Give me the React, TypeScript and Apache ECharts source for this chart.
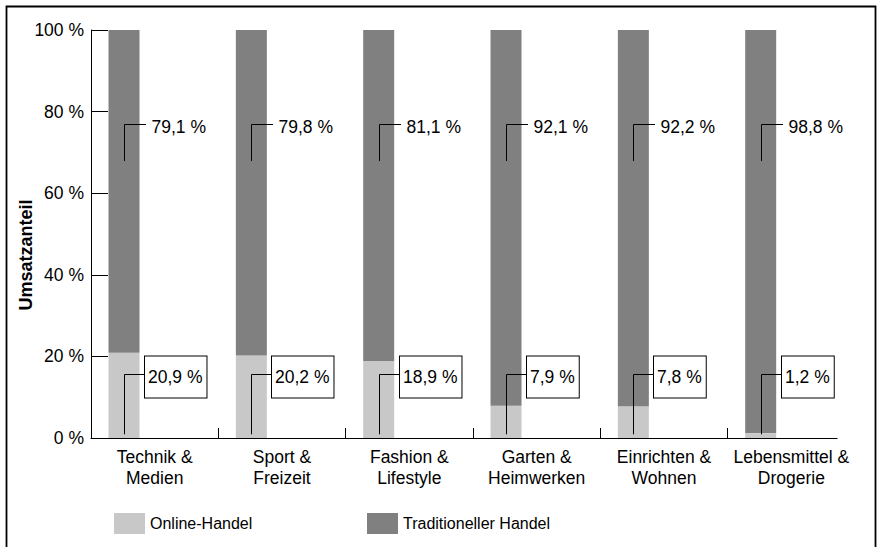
import React, { useEffect, useRef } from "react";
import * as echarts from "echarts";

const categories = [
  "Technik &\nMedien",
  "Sport &\nFreizeit",
  "Fashion &\nLifestyle",
  "Garten &\nHeimwerken",
  "Einrichten &\nWohnen",
  "Lebensmittel &\nDrogerie",
];
const onlineShare = [20.9, 20.2, 18.9, 7.9, 7.8, 1.2];
const traditionalShare = [79.1, 79.8, 81.1, 92.1, 92.2, 98.8];
const seriesNames = ["Online-Handel", "Traditioneller Handel"];
const yAxisTitle = "Umsatzanteil";

const FONT = "'Liberation Sans', Arial, Helvetica, sans-serif";
const LIGHT = "#c8c8c8";
const DARK = "#808080";
const BAR_WIDTH = 31;
const SPACER_WIDTH = 61.3;
const BAR_CENTER_OFFSET = -SPACER_WIDTH / 2;

// label anchor levels (in axis units)
const TOP_LABEL_LEVEL = 76.9;
const TOP_LEADER_END = 67.9;
const BOTTOM_LABEL_LEVEL = 15.6;
const BOTTOM_LEADER_END = 0.9;

const fmt = (v: number) => v.toFixed(1).replace(".", ",") + " %";

export default function App() {
  const ref = useRef<HTMLDivElement>(null);

  useEffect(() => {
    if (!ref.current) return;
    const chart = echarts.init(ref.current, undefined, { renderer: "svg" });

    const labelData = categories.map((_, i) => [i, onlineShare[i], traditionalShare[i]]);

    const option: any = {
      animation: false,
      backgroundColor: "#fff",
      textStyle: { fontFamily: FONT },
      grid: { left: 91, top: 30, width: 764, height: 408 },
      legend: [
        {
          left: 109,
          top: 508,
          itemWidth: 31,
          itemHeight: 21,
          icon: "rect",
          data: [seriesNames[0]],
          textStyle: { fontSize: 16, color: "#000", fontFamily: FONT },
          selectedMode: false,
        },
        {
          left: 362,
          top: 508,
          itemWidth: 31,
          itemHeight: 21,
          icon: "rect",
          data: [seriesNames[1]],
          textStyle: { fontSize: 16, color: "#000", fontFamily: FONT },
          selectedMode: false,
        },
      ],
      xAxis: {
        type: "category",
        data: categories,
        axisLine: { lineStyle: { color: "#000", width: 1 } },
        axisTick: { show: true, interval: 0, inside: true, length: 10, lineStyle: { color: "#000" } },
        axisLabel: {
          interval: 0,
          color: "#000",
          fontSize: 17.5,
          lineHeight: 21.5,
          margin: 8,
          fontFamily: FONT,
        },
        splitLine: { show: false },
      },
      yAxis: {
        type: "value",
        min: 0,
        max: 100,
        interval: 20,
        axisLine: { show: true, lineStyle: { color: "#000", width: 1 } },
        axisTick: { show: true, inside: true, length: 17, lineStyle: { color: "#000" } },
        axisLabel: {
          color: "#000",
          fontSize: 17.5,
          margin: 7,
          fontFamily: FONT,
          formatter: (v: number) => `${v} %`,
        },
        splitLine: { show: false },
      },
      graphic: [
        {
          type: "rect",
          shape: { x: 837.5, y: 425, width: 22, height: 16 },
          style: { fill: "#fff" },
          silent: true,
          z: 99,
        },
        {
          type: "rect",
          shape: { x: 6.5, y: 6.5, width: 869, height: 560 },
          style: { fill: "none", stroke: "#000", lineWidth: 1.8 },
          silent: true,
          z: 100,
        },
        {
          type: "text",
          x: 26,
          y: 255,
          rotation: Math.PI / 2,
          style: {
            text: yAxisTitle,
            font: `bold 18px ${FONT}`,
            fill: "#000",
            align: "center",
            verticalAlign: "middle",
          },
        },
      ],
      series: [
        {
          name: seriesNames[0],
          type: "bar",
          stack: "share",
          data: onlineShare,
          barWidth: BAR_WIDTH,
          barGap: "0%",
          itemStyle: { color: LIGHT },
        },
        {
          name: seriesNames[1],
          type: "bar",
          stack: "share",
          data: traditionalShare,
          barWidth: BAR_WIDTH,
          barGap: "0%",
          itemStyle: { color: DARK },
        },
        {
          name: "spacer",
          type: "bar",
          data: [],
          barWidth: SPACER_WIDTH,
          barGap: "0%",
          silent: true,
          itemStyle: { color: "transparent" },
        },
        {
          name: "labels",
          type: "custom",
          data: labelData,
          silent: true,
          z: 10,
          renderItem: (params: any, api: any) => {
            const idx = api.value(0);
            const online = api.value(1);
            const trad = api.value(2);
            const cx = api.coord([idx, 0])[0];
            const bx = Math.round(cx + BAR_CENTER_OFFSET) + 0.5;
            const yTE = Math.round(api.coord([idx, TOP_LABEL_LEVEL])[1]) + 0.5;
            const yTS = api.coord([idx, TOP_LEADER_END])[1];
            const yBE = Math.round(api.coord([idx, BOTTOM_LABEL_LEVEL])[1]) + 0.5;
            const yBS = api.coord([idx, BOTTOM_LEADER_END])[1];
            return {
              type: "group",
              children: [
                {
                  type: "polyline",
                  shape: { points: [[bx, yTS], [bx, yTE], [bx + 21.5, yTE]] },
                  style: { stroke: "#000", lineWidth: 1, fill: "none" },
                },
                {
                  type: "text",
                  x: bx + 27,
                  y: yTE + 2.5,
                  style: {
                    text: fmt(trad),
                    font: `17.5px ${FONT}`,
                    fill: "#000",
                    align: "left",
                    verticalAlign: "middle",
                  },
                },
                {
                  type: "polyline",
                  shape: { points: [[bx, yBS], [bx, yBE], [bx + 20.5, yBE]] },
                  style: { stroke: "#000", lineWidth: 1, fill: "none" },
                },
                {
                  type: "text",
                  x: bx + 20.5,
                  y: yBE + 2.4,
                  style: {
                    text: fmt(online),
                    font: `17.5px ${FONT}`,
                    fill: "#000",
                    align: "left",
                    verticalAlign: "middle",
                    backgroundColor: "#fff",
                    borderColor: "#000",
                    borderWidth: 1,
                    padding: [12, 4, 11, 3],
                  },
                },
              ],
            };
          },
        },
      ],
    };

    chart.setOption(option);
    return () => chart.dispose();
  }, []);

  return (
    <div
      ref={ref}
      style={{ position: "fixed", left: 0, top: 0, width: 877, height: 547 }}
    />
  );
}
